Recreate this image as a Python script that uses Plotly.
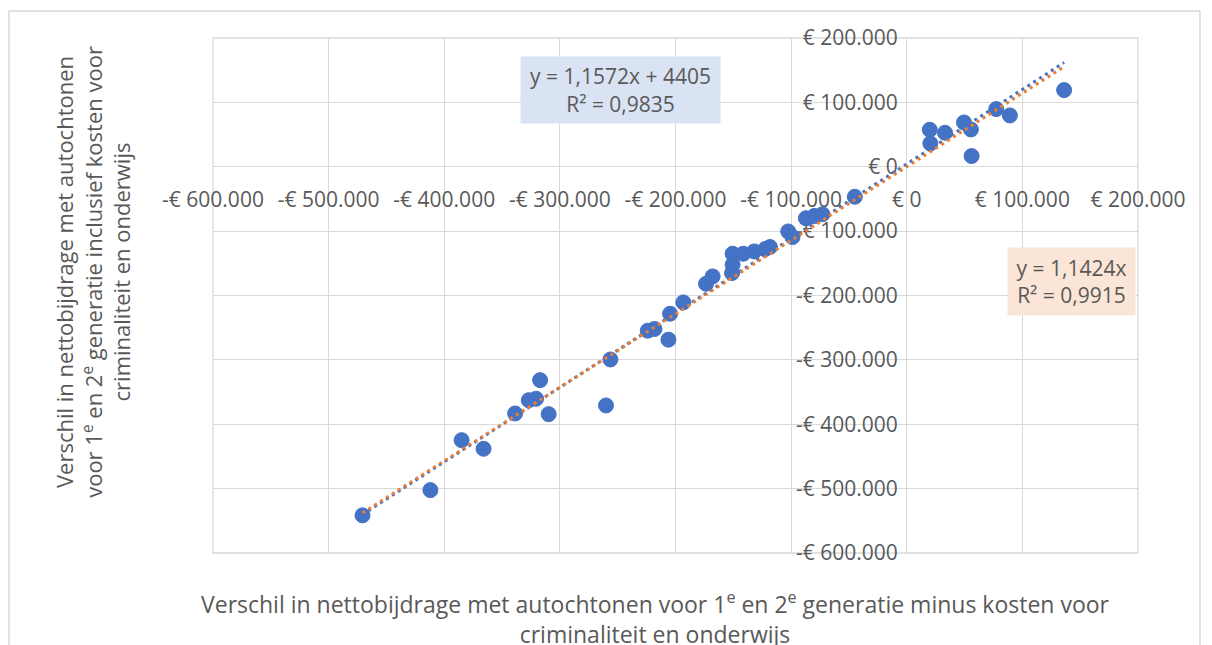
import plotly.graph_objects as go

# scatter points (euro)
x_values = [
    -470700, -412000, -385000, -366000, -338700, -326900, -320600, -317100,
    -309700, -260100, -256300, -224000, -218200, -206100, -204700, -193200,
    -173600, -167900, -151100, -150600, -150600, -141400, -131900, -122400,
    -118300, -102500, -98800, -87200, -80000, -72900, -44900, 19900,
    20400, 33100, 49500, 55500, 56100, 77400, 89200, 136100,
]
y_values = [
    -541500, -502300, -424700, -438100, -383200, -362600, -360400, -331500,
    -384300, -370800, -299400, -254700, -252000, -268600, -228300, -210700,
    -181700, -170300, -165100, -152200, -135100, -135100, -131500, -127800,
    -124700, -100500, -109200, -80000, -76400, -73800, -46600, 57500,
    36200, 52800, 68800, 58000, 16600, 89600, 79700, 119100,
]

# trendline coefficients as printed in the chart
linear_slope = 1.1572
linear_intercept = 4405
zero_slope = 1.1424

x_ticks = [-600000, -500000, -400000, -300000, -200000, -100000, 0, 100000, 200000]
x_tick_labels = ["-€ 600.000", "-€ 500.000", "-€ 400.000", "-€ 300.000", "-€ 200.000",
                 "-€ 100.000", "€ 0", "€ 100.000", "€ 200.000"]
y_ticks = [-600000, -500000, -400000, -300000, -200000, -100000, 0, 100000, 200000]
y_tick_labels = ["-€ 600.000", "-€ 500.000", "-€ 400.000", "-€ 300.000", "-€ 200.000",
                 "-€ 100.000", "€ 0", "€ 100.000", "€ 200.000"]

label_linear = "y = 1,1572x + 4405<br>R² = 0,9835"
label_zero = "y = 1,1424x<br>R² = 0,9915"
x_title = ("Verschil in nettobijdrage met autochtonen voor 1<sup>e</sup> en 2<sup>e</sup> "
           "generatie minus kosten voor<br>criminaliteit en onderwijs")
y_title = ("Verschil in nettobijdrage met autochtonen<br>voor 1<sup>e</sup> en 2<sup>e</sup> "
           "generatie inclusief kosten voor<br>criminaliteit en onderwijs")

BLUE = "#4472c4"
ORANGE = "#ed7d31"
GREY = "#595959"
GRID = "#d9d9d9"
FONT = "Open Sans"

fig = go.Figure()

fig.add_trace(go.Scatter(
    x=x_values, y=y_values, mode="markers",
    marker=dict(size=15, color=BLUE, line=dict(width=1, color=BLUE)),
))

trend_x = [min(x_values), max(x_values)]
fig.add_trace(go.Scatter(
    x=trend_x, y=[linear_slope * v + linear_intercept for v in trend_x],
    mode="lines", line=dict(color=BLUE, width=3, dash="3px,4px"),
))
fig.add_trace(go.Scatter(
    x=trend_x, y=[zero_slope * v for v in trend_x],
    mode="lines", line=dict(color=ORANGE, width=3, dash="3px,4px"),
))

axis_common = dict(
    showgrid=True, gridcolor=GRID, gridwidth=1.3,
    zeroline=False, showline=False, ticks="",
    tickfont=dict(family=FONT, size=21, color=GREY),
    anchor="free", position=0.75, layer="below traces",
)
fig.update_xaxes(range=[-600000, 200000], tickvals=x_ticks, ticktext=x_tick_labels,
                 ticklabelstandoff=18, **axis_common)
fig.update_yaxes(range=[-600000, 200000], tickvals=y_ticks, ticktext=y_tick_labels,
                 ticklabelstandoff=9, **axis_common)

# outer gridlines of the plot area (plotly skips the ones on the edges)
fig.add_shape(type="rect", xref="paper", yref="paper", x0=0, x1=1, y0=0, y1=1,
              line=dict(color=GRID, width=1.3), layer="below")

fig.add_annotation(
    text=label_linear, xref="paper", yref="paper", x=0.441, y=0.899,
    xanchor="center", yanchor="middle",
    showarrow=False, bgcolor="#dae3f3", width=197, height=64,
    font=dict(family=FONT, size=21, color=GREY), align="center",
)
fig.add_annotation(
    text=label_zero, xref="paper", yref="paper", x=0.928, y=0.527,
    xanchor="center", yanchor="middle",
    showarrow=False, bgcolor="#fbe5d6", width=125, height=65,
    font=dict(family=FONT, size=21, color=GREY), align="center",
)
fig.add_annotation(
    text=x_title, xref="paper", yref="paper", x=0.478, y=-0.126,
    xanchor="center", yanchor="middle", showarrow=False,
    font=dict(family=FONT, size=23, color=GREY), align="center",
)
fig.add_annotation(
    text=y_title, xref="paper", yref="paper", x=-0.1297, y=0.546,
    xanchor="center", yanchor="middle", showarrow=False, textangle=-90,
    font=dict(family=FONT, size=22, color=GREY), align="center",
)

# outer chart border
fig.add_shape(type="rect", xref="paper", yref="paper",
              x0=-0.2205, x1=1.067, y0=-0.3, y1=1.0524,
              line=dict(color=GRID, width=1.5), layer="below")

# the page body adds an 8px offset, so the figure is 8px smaller on each side
fig.update_layout(
    width=1204, height=637,
    margin=dict(l=205, r=74, t=30, b=92),
    plot_bgcolor="white", paper_bgcolor="white",
    showlegend=False,
    font=dict(family=FONT, color=GREY),
)

fig.write_html("out.html")
